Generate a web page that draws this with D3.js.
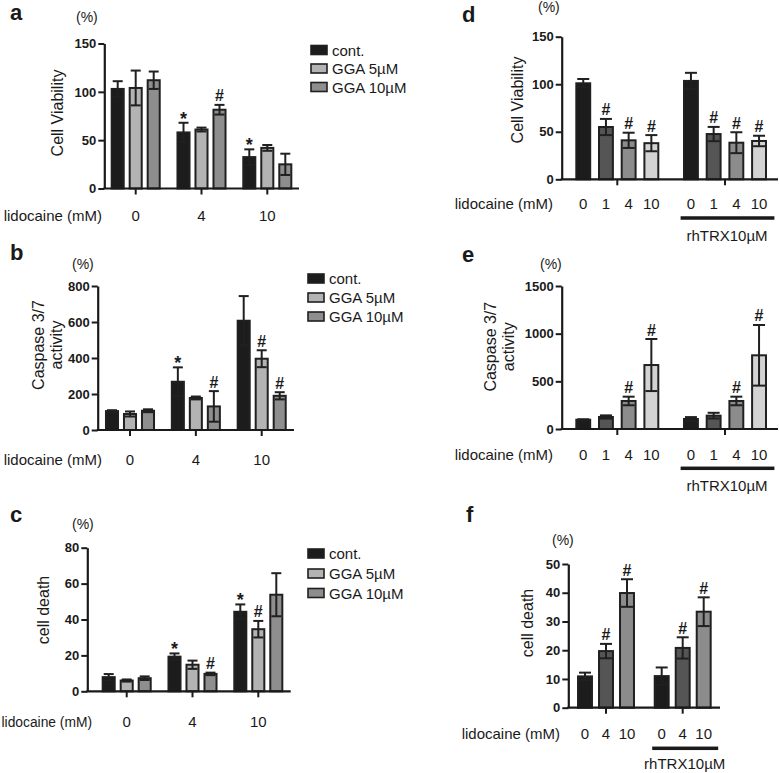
<!DOCTYPE html>
<html>
<head>
<meta charset="utf-8">
<script src="https://cdn.jsdelivr.net/npm/d3@7/dist/d3.min.js"></script>
<style>
  html, body { margin: 0; padding: 0; background: #fff; }
  svg { display: block; }
</style>
</head>
<body>
<svg id="chart" width="779" height="773"></svg>
<script>
// ---------------- DATA ----------------
const dosesGGA = ["0", "4", "10"];
const seriesGGA = ["cont.", "GGA 5µM", "GGA 10µM"];

// panel a : cell viability (%)  [dose][series]
const viabMean = [[103, 104, 112], [58, 61, 81.5], [32.5, 42, 25]];
const viabErr  = [[8, 18, 9], [10, 2, 5], [8, 3, 11]];
const viabMarks = [["", "", ""], ["*", "", "#"], ["*", "", ""]];
const viabTicks = [0, 50, 100, 150];

// panel b : caspase 3/7 activity (%)
const caspMean = [[105, 89, 107], [268, 178, 131], [607, 396, 190]];
const caspErr  = [[5, 14, 8], [80, 8, 85], [137, 47, 20]];
const caspMarks = [["", "", ""], ["*", "", "#"], ["", "#", "#"]];
const caspTicks = [0, 200, 400, 600, 800];

// panel c : cell death (%)
const deathMean = [[7.9, 6.0, 7.3], [19.3, 14.8, 9.7], [44.3, 34.6, 53.8]];
const deathErr  = [[1.7, 0.6, 1.0], [1.8, 2.3, 0.7], [4.1, 4.6, 12]];
const deathMarks = [["", "", ""], ["*", "", "#"], ["*", "#", ""]];
const deathTicks = [0, 20, 40, 60, 80];

// panels d-f : rhTRX
const trxGroups = ["none", "rhTRX10µM"];
const dosesTRX4 = ["0", "1", "4", "10"];
const dosesTRX3 = ["0", "4", "10"];

const trxViabMean = [[101, 55, 41, 38], [103.5, 47.6, 38.5, 40.3]];
const trxViabErr  = [[4.5, 8.5, 8, 8.5], [8.5, 7.5, 11, 5.5]];
const trxViabMarks = [["", "#", "#", "#"], ["", "#", "#", "#"]];

const trxCaspMean = [[97, 126, 294, 671], [105, 140, 294, 773]];
const trxCaspErr  = [[5, 17, 45, 273], [20, 30, 45, 318]];
const trxCaspMarks = [["", "", "#", "#"], ["", "", "#", "#"]];
const trxCaspTicks = [0, 500, 1000, 1500];

const trxDeathMean = [[10.9, 19.7, 39.9], [11, 20.8, 33.4]];
const trxDeathErr  = [[1.3, 2.5, 4.8], [3, 3.7, 5]];
const trxDeathMarks = [["", "#", "#"], ["", "#", "#"]];
const trxDeathTicks = [0, 10, 20, 30, 40, 50];

// ---------------- STYLE ----------------
const FONT = "'Liberation Sans', Arial, Helvetica, sans-serif";
const INK = "#1a1a1a";
const colGGA = ["#1c1c1c", "#b3b3b3", "#8e8e8e"];
const colTRX4 = ["#1c1c1c", "#555555", "#8c8c8c", "#d3d3d3"];
const colTRX3 = ["#1c1c1c", "#555555", "#8c8c8c"];

const svg = d3.select("#chart");
svg.append("rect").attr("width", 779).attr("height", 773).attr("fill", "#fff");

function text(g, x, y, s, size, weight, anchor) {
  return g.append("text").attr("x", x).attr("y", y).text(s)
    .style("font-family", FONT).style("font-size", size + "px")
    .style("font-weight", weight || "normal")
    .attr("text-anchor", anchor || "start").attr("fill", INK);
}

function panel(o) {
  const g = svg.append("g");
  const y = d3.scaleLinear().domain([0, o.ymax]).range([o.y0, o.y1]);
  const xg = d3.scalePoint().domain(o.groups).range([o.gx0, o.gx1]);
  const xs = d3.scaleBand().domain(o.series).range([-o.half, o.half])
    .paddingInner(o.pi).paddingOuter(o.pi / 2);
  const bw = xs.bandwidth();

  // panel letter and unit
  text(g, o.lx, o.ly, o.label, 22, "bold");
  text(g, o.px, o.py, "(%)", 14);

  // axis title (rotated)
  o.title.forEach((t, i) => {
    g.append("text")
      .attr("transform", `translate(${o.tx[i]},${o.ty}) rotate(-90)`)
      .attr("dy", "0.35em").attr("text-anchor", "middle")
      .style("font-family", FONT).style("font-size", "16px").attr("fill", INK)
      .text(t);
  });

  // bars
  o.groups.forEach((gr, i) => {
    o.series.forEach((s, j) => {
      const m = o.mean[i][j], e = o.err[i][j];
      const x = xg(gr) + xs(s);
      g.append("rect")
        .attr("x", x + 1).attr("y", y(m))
        .attr("width", bw - 2).attr("height", o.y0 - y(m))
        .attr("fill", o.colors[j]).attr("stroke", "#202020").attr("stroke-width", 2);
      const cx = x + bw / 2;
      const lo = y(Math.max(0, m - e)), hi = y(m + e);
      const eg = g.append("g").attr("stroke", "#202020").attr("stroke-width", 2);
      eg.append("line").attr("x1", cx).attr("x2", cx).attr("y1", hi).attr("y2", lo);
      eg.append("line").attr("x1", cx - o.cap).attr("x2", cx + o.cap).attr("y1", hi).attr("y2", hi);
      eg.append("line").attr("x1", cx - o.cap).attr("x2", cx + o.cap).attr("y1", lo).attr("y2", lo);
      const mk = o.marks[i][j];
      if (mk === "#") text(g, cx, hi - 3.5, "#", 16, "bold", "middle");
      if (mk === "*") text(g, cx, hi + 2, "*", 18, "bold", "middle");
    });
  });

  // y axis
  const ya = g.append("g").attr("transform", `translate(${o.ax},0)`)
    .call(d3.axisLeft(y).tickValues(o.yticks).tickFormat(d3.format("d"))
      .tickSize(6).tickSizeOuter(0).tickPadding(2));
  ya.select(".domain").attr("stroke", INK).attr("stroke-width", 2.2);
  ya.selectAll(".tick line").attr("stroke", INK).attr("stroke-width", 2);
  ya.selectAll(".tick text").style("font-family", FONT).style("font-size", "13px")
    .style("font-weight", "bold").attr("fill", INK);

  // x axis line and group ticks
  g.append("line").attr("x1", o.ax - 1).attr("x2", o.axEnd).attr("y1", o.y0).attr("y2", o.y0)
    .attr("stroke", INK).attr("stroke-width", 2.2);
  o.groups.forEach(gr => {
    g.append("line").attr("x1", xg(gr)).attr("x2", xg(gr)).attr("y1", o.y0).attr("y2", o.y0 + 6)
      .attr("stroke", INK).attr("stroke-width", 2);
  });

  // x labels
  text(g, o.lidoX, o.labelY, "lidocaine (mM)", o.lidoSize || 15, "normal", "end");
  if (o.perBar) {
    o.groups.forEach(gr => {
      o.series.forEach(s => text(g, xg(gr) + xs(s) + bw / 2, o.labelY, s, 15, "normal", "middle"));
    });
    const c = xg(o.groups[1]);
    g.append("rect").attr("x", c - o.half + 1).attr("y", o.ulY - 1.75)
      .attr("width", 2 * o.half + 3).attr("height", 3.5).attr("fill", INK);
    text(g, c + 2, o.rhY, o.groups[1], 15, "normal", "middle");
  } else {
    o.groups.forEach(gr => text(g, xg(gr), o.labelY, gr, 15, "normal", "middle"));
  }

  // legend
  if (o.legend) {
    o.series.forEach((s, j) => {
      const ly = o.legend.ys[j];
      g.append("rect").attr("x", o.legend.x + 1).attr("y", ly - 4.5)
        .attr("width", 16).attr("height", 9)
        .attr("fill", o.colors[j]).attr("stroke", "#202020").attr("stroke-width", 1.6);
      text(g, o.legend.x + 22, ly + 5.5, s, 15);
    });
  }
}

panel({ label: "a", lx: 10, ly: 20, px: 76, py: 22, title: ["Cell Viability"], tx: [57], ty: 113,
  y0: 188.5, y1: 43.5, ymax: 150, yticks: viabTicks, ax: 104.3, axEnd: 299,
  gx0: 135.7, gx1: 267.3, half: 27, pi: 0.22, cap: 5,
  groups: dosesGGA, series: seriesGGA, mean: viabMean, err: viabErr, marks: viabMarks, colors: colGGA,
  labelY: 220.7, lidoX: 102, legend: { x: 310, ys: [50, 68.5, 87] } });

panel({ label: "b", lx: 10, ly: 260, px: 72, py: 268.5, title: ["Caspase 3/7", "activity"], tx: [38.5, 56], ty: 345,
  y0: 430, y1: 286, ymax: 800, yticks: caspTicks, ax: 97.7, axEnd: 294,
  gx0: 130, gx1: 261.7, half: 27, pi: 0.22, cap: 5,
  groups: dosesGGA, series: seriesGGA, mean: caspMean, err: caspErr, marks: caspMarks, colors: colGGA,
  labelY: 465, lidoX: 102, legend: { x: 307, ys: [278.5, 297.5, 316.5] } });

panel({ label: "c", lx: 10, ly: 521.5, px: 72, py: 528.5, title: ["cell death"], tx: [43], ty: 610,
  y0: 691.3, y1: 547.7, ymax: 80, yticks: deathTicks, ax: 87.3, axEnd: 290.7,
  gx0: 126.7, gx1: 258.3, half: 27, pi: 0.22, cap: 5,
  groups: dosesGGA, series: seriesGGA, mean: deathMean, err: deathErr, marks: deathMarks, colors: colGGA,
  labelY: 726.7, lidoX: 92, lidoSize: 13.8, legend: { x: 307, ys: [553.5, 573.5, 593] } });

panel({ label: "d", lx: 462, ly: 21.5, px: 538, py: 12, title: ["Cell Viability"], tx: [517], ty: 100,
  y0: 179.3, y1: 36.7, ymax: 150, yticks: viabTicks, ax: 561.7, axEnd: 778,
  gx0: 617.3, gx1: 725, half: 45.4, pi: 0.3, cap: 6,
  groups: trxGroups, series: dosesTRX4, mean: trxViabMean, err: trxViabErr, marks: trxViabMarks, colors: colTRX4,
  labelY: 209.3, lidoX: 553, perBar: true, ulY: 218, rhY: 241 });

panel({ label: "e", lx: 462, ly: 261.5, px: 540, py: 268.5, title: ["Caspase 3/7", "activity"], tx: [490, 508], ty: 346.7,
  y0: 429, y1: 286, ymax: 1500, yticks: trxCaspTicks, ax: 561.7, axEnd: 778,
  gx0: 617.3, gx1: 725, half: 45.4, pi: 0.3, cap: 6,
  groups: trxGroups, series: dosesTRX4, mean: trxCaspMean, err: trxCaspErr, marks: trxCaspMarks, colors: colTRX4,
  labelY: 460, lidoX: 553, perBar: true, ulY: 468.3, rhY: 491 });

panel({ label: "f", lx: 466, ly: 521.5, px: 552, py: 545, title: ["cell death"], tx: [527], ty: 623,
  y0: 707.7, y1: 564, ymax: 50, yticks: trxDeathTicks, ax: 568.3, axEnd: 720,
  gx0: 606, gx1: 682.7, half: 31.5, pi: 0.24, cap: 6,
  groups: trxGroups, series: dosesTRX3, mean: trxDeathMean, err: trxDeathErr, marks: trxDeathMarks, colors: colTRX3,
  labelY: 739.3, lidoX: 560, perBar: true, ulY: 748.3, rhY: 769 });
</script>
</body>
</html>
